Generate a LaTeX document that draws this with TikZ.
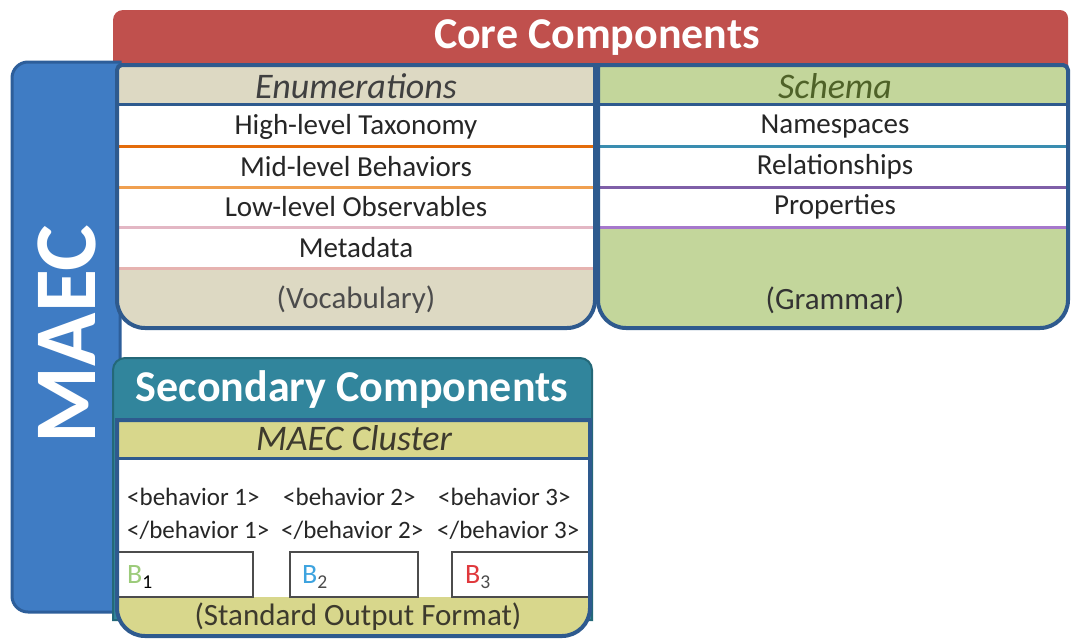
\documentclass[tikz,border=0pt]{standalone}
\usepackage{fontspec}
\setmainfont{Carlito}
\definecolor{corered}{HTML}{C0504D}
\definecolor{maecblue}{HTML}{3F7CC4}
\definecolor{maecblueb}{HTML}{2D5E9A}
\definecolor{boxborder}{HTML}{2E5A8E}
\definecolor{tan}{HTML}{DDD9C3}
\definecolor{grn}{HTML}{C3D69B}
\definecolor{teal}{HTML}{31859C}
\definecolor{tealb}{HTML}{246878}
\definecolor{ylw}{HTML}{D8D78C}
\definecolor{txt}{HTML}{262626}
\definecolor{schtxt}{HTML}{4F6228}
\definecolor{sepA}{HTML}{E46C0A}
\definecolor{sepB}{HTML}{F0A050}
\definecolor{sepC}{HTML}{E3B7C4}
\definecolor{sepD}{HTML}{E6B3B0}
\definecolor{sepE}{HTML}{3A8DB0}
\definecolor{sepF}{HTML}{7F5FA8}
\definecolor{sepG}{HTML}{A678CC}
\definecolor{bgreen}{HTML}{9CCB7A}
\definecolor{bblue}{HTML}{3DA3DF}
\definecolor{bred}{HTML}{E0383C}
\tikzset{
  title/.style={text=white,font=\fontsize{44}{48}\selectfont\bfseries,inner sep=0pt},
  head/.style={font=\fontsize{36}{40}\selectfont\itshape,inner sep=0pt},
  row/.style={text=txt,font=\fontsize{29}{32}\selectfont,inner sep=0pt},
  paren/.style={font=\fontsize{31}{34}\selectfont,inner sep=0pt},
  beh/.style={text=txt,font=\fontsize{25}{28}\selectfont,inner sep=0pt,anchor=west},
  bbox/.style={draw=black!70,line width=1.5pt,fill=white},
  blab/.style={font=\fontsize{28}{30}\selectfont,inner sep=0pt,anchor=west},
  border/.style={draw=boxborder,line width=4pt},
  sep/.style={line width=3pt},
}
\begin{document}
\begin{tikzpicture}[x=1pt,y=-1pt]
\useasboundingbox (0,0) rectangle (1071,638);
\fill[white] (0,0) rectangle (1071,638);
% red bar
\fill[corered] (113,20) arc[start angle=180,end angle=270,radius=10] -- (1060,10)
  arc[start angle=270,end angle=360,radius=8] -- (1068,66) -- (113,66) -- cycle;
\node[title] (core) at (597,38) {Core Components};
% blue MAEC bar
\path[fill=maecblue,draw=maecblueb,line width=3pt] (28,62) -- (120,62) -- (120,612) -- (28,612)
  arc[start angle=90,end angle=180,radius=16] -- (12,78)
  arc[start angle=180,end angle=270,radius=16] -- cycle;
\node[text=white,font=\fontsize{88}{90}\selectfont\bfseries,rotate=90,inner sep=0pt] (maec) at (67,334) {MAEC};
% Enumerations box
\fill[tan] (117,70) arc[start angle=180,end angle=270,radius=5] -- (595,65) -- (595,300)
  arc[start angle=0,end angle=90,radius=28] -- (145,328)
  arc[start angle=90,end angle=180,radius=28] -- cycle;
\fill[white] (119,105) rectangle (593,268);
\draw[sep,sepA] (119,146) -- (593,146);
\draw[sep,sepB] (119,187) -- (593,187);
\draw[sep,sepC] (119,227) -- (593,227);
\draw[sep,sepD] (119,268) -- (593,268);
\draw[boxborder,line width=3pt] (117,104) -- (595,104);
\path[border] (117,70) arc[start angle=180,end angle=270,radius=5] -- (595,65) -- (595,300)
  arc[start angle=0,end angle=90,radius=28] -- (145,328)
  arc[start angle=90,end angle=180,radius=28] -- cycle;
\node[head,text=black!75] (enum) at (356,86) {Enumerations};
\node[row] (hlt) at (356,127) {High-level Taxonomy};
\node[row] (mlb) at (356,167) {Mid-level Behaviors};
\node[row] (llo) at (356,207) {Low-level Observables};
\node[row] (meta) at (356,248) {Metadata};
\node[paren,text=black!70] (voc) at (356,300) {(Vocabulary)};
% Schema box
\fill[grn] (598,65) -- (1063,65) arc[start angle=270,end angle=360,radius=5] -- (1068,300)
  arc[start angle=0,end angle=90,radius=28] -- (626,328)
  arc[start angle=90,end angle=180,radius=28] -- cycle;
\fill[white] (600,105) rectangle (1066,227);
\draw[sep,sepE] (600,146) -- (1066,146);
\draw[sep,sepF] (600,187) -- (1066,187);
\draw[sep,sepG] (600,227) -- (1066,227);
\draw[boxborder,line width=3pt] (598,104) -- (1068,104);
\path[border] (598,65) -- (1063,65) arc[start angle=270,end angle=360,radius=5] -- (1068,300)
  arc[start angle=0,end angle=90,radius=28] -- (626,328)
  arc[start angle=90,end angle=180,radius=28] -- cycle;
\node[head,text=schtxt] (schema) at (835,86) {Schema};
\node[row] (ns) at (835,127) {Namespaces};
\node[row] (rel) at (835,167) {Relationships};
\node[row] (prop) at (835,207) {Properties};
\node[paren,text=black!80] (gram) at (835,300) {(Grammar)};
% Secondary components
\path[fill=teal,draw=tealb,line width=2pt] (113,370) arc[start angle=180,end angle=270,radius=12] -- (580,358)
  arc[start angle=270,end angle=360,radius=12] -- (592,620) -- (113,620) -- cycle;
\node[title] (sec) at (352,390) {Secondary Components};
% MAEC cluster
\fill[white] (117,420) -- (590,420) -- (590,608) arc[start angle=0,end angle=90,radius=28]
  -- (145,636) arc[start angle=90,end angle=180,radius=28] -- cycle;
\fill[ylw] (117,420) rectangle (590,457);
\fill[ylw] (117,597) -- (590,597) -- (590,608) arc[start angle=0,end angle=90,radius=28]
  -- (145,636) arc[start angle=90,end angle=180,radius=28] -- cycle;
\draw[boxborder,line width=3pt] (117,458) -- (590,458);
\path[bbox] (118,552) rectangle (253,597);
\path[bbox] (290,552) rectangle (418,597);
\path[bbox] (452,552) rectangle (590,597);
\path[border] (117,420) -- (590,420) -- (590,608) arc[start angle=0,end angle=90,radius=28]
  -- (145,636) arc[start angle=90,end angle=180,radius=28] -- cycle;
\node[head,text=black!75!olive] (clus) at (354,438) {MAEC Cluster};
\node[beh] (b1o) at (127,497) {<behavior 1>};
\node[beh] (b1c) at (127,530) {</behavior 1>};
\node[beh] (b2o) at (283,497) {<behavior 2>};
\node[beh] (b2c) at (281,530) {</behavior 2>};
\node[beh] (b3o) at (438,497) {<behavior 3>};
\node[beh] (b3c) at (437,530) {</behavior 3>};
\node[blab,text=bgreen] (B1) at (127,577) {B\textsubscript{\textcolor{black}{1}}};
\node[blab,text=bblue] (B2) at (302,577) {B\textsubscript{\textcolor{black!70}{2}}};
\node[blab,text=bred] (B3) at (465,577) {B\textsubscript{\textcolor{black!70}{3}}};
\node[paren,text=black!75!olive] (sof) at (358,617) {(Standard Output Format)};
\end{tikzpicture}
\end{document}
